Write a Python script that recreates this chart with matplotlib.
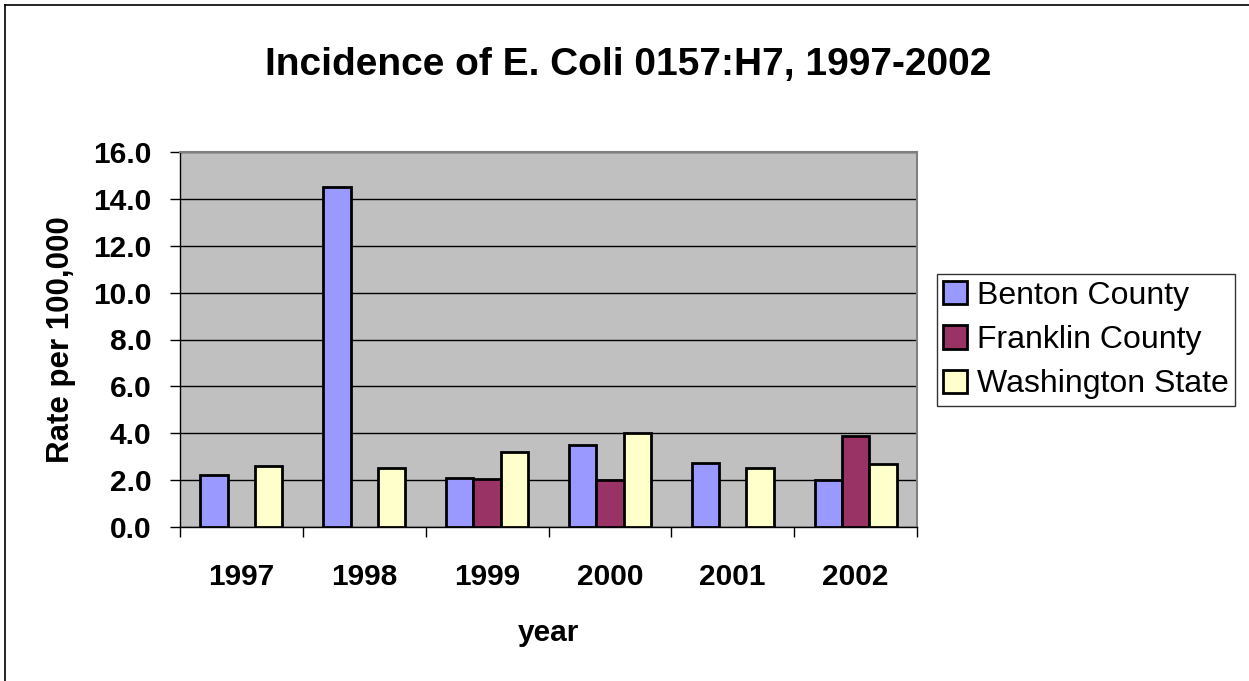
import matplotlib.pyplot as plt
import numpy as np
from matplotlib.lines import Line2D

plt.rcParams['font.family'] = ['Liberation Sans', 'DejaVu Sans']

years = ['1997', '1998', '1999', '2000', '2001', '2002']
benton = [2.2, 14.5, 2.1, 3.5, 2.75, 2.0]
franklin = [np.nan, np.nan, 2.05, 2.0, np.nan, 3.9]
washington = [2.6, 2.5, 3.2, 4.0, 2.5, 2.7]

series_names = ['Benton County', 'Franklin County', 'Washington State']
series_colors = ['#9999FF', '#993366', '#FFFFCC']

fig = plt.figure(figsize=(12.49, 6.81), dpi=100)
ax = fig.add_axes([180 / 1249, 1 - 527 / 681, 737 / 1249, 375 / 681])
ax.set_facecolor('#C0C0C0')

x = np.arange(len(years))
w = 1 / 4.5
for k, (vals, name, col) in enumerate(zip([benton, franklin, washington], series_names, series_colors)):
    ax.bar(x + (k - 1) * w, vals, w, color=col, edgecolor='black', linewidth=2.0,
           label=name, zorder=3)

ax.set_xlim(-0.5, len(years) - 0.5)
ax.set_ylim(0, 16)
ax.set_yticks(np.arange(0, 16.1, 2))
ax.set_yticklabels(['%.1f' % v for v in np.arange(0, 16.1, 2)])
ax.yaxis.grid(True, color='black', linewidth=1.0, zorder=1)
ax.set_axisbelow(True)

# category boundary ticks, labels in between
ax.set_xticks(np.arange(-0.5, len(years)), minor=False)
ax.set_xticklabels([''] * (len(years) + 1))
ax.set_xticks(x, minor=True)
ax.set_xticklabels(years, minor=True)
ax.tick_params(axis='x', which='major', direction='out', length=7.5, width=1, color='black')
ax.tick_params(axis='x', which='minor', length=0, pad=26, labelsize=21.5)
ax.tick_params(axis='y', direction='out', length=7.5, width=1, pad=13, labelsize=21.5)
for lab in ax.get_xticklabels(minor=True) + ax.get_yticklabels():
    lab.set_fontweight('bold')

for s in ['top', 'right']:
    ax.spines[s].set_color('#808080')
    ax.spines[s].set_linewidth(1.5)
for s in ['left', 'bottom']:
    ax.spines[s].set_color('black')
    ax.spines[s].set_linewidth(1.0)

ax.set_xlabel('year', fontsize=21.5, fontweight='bold', labelpad=20)
ax.set_ylabel('Rate per 100,000', fontsize=22.5, fontweight='bold', labelpad=12)

fig.text(0.503, 1 - 65 / 681, 'Incidence of E. Coli 0157:H7, 1997-2002',
         ha='center', va='center', fontsize=28, fontweight='bold')

leg = ax.legend(loc='center left', bbox_to_anchor=(937 / 1249, 1 - 340 / 681),
                bbox_transform=fig.transFigure, fontsize=23, frameon=True,
                fancybox=False, edgecolor='black', handlelength=0.75, handleheight=0.75,
                handletextpad=0.3, borderpad=0.2, labelspacing=0.45, borderaxespad=0)
leg.get_frame().set_linewidth(1.0)

# outer chart border (left and top edges visible)
fig.add_artist(Line2D([5 / 1249, 5 / 1249], [0, 1 - 5 / 681], color='black', linewidth=1.2,
                      transform=fig.transFigure))
fig.add_artist(Line2D([5 / 1249, 1], [1 - 5 / 681, 1 - 5 / 681], color='black', linewidth=1.2,
                      transform=fig.transFigure))

fig.savefig('out.png', dpi=100)
